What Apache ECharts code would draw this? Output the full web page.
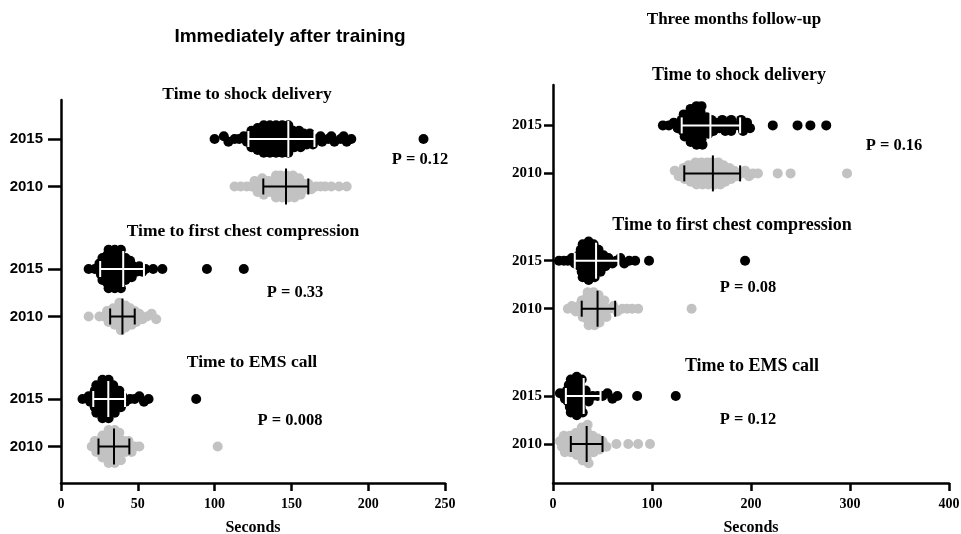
<!DOCTYPE html>
<html>
<head>
<meta charset="utf-8">
<script src="https://cdn.jsdelivr.net/npm/echarts@6/dist/echarts.min.js"></script>
<style>html,body{margin:0;padding:0;background:#fff}#c{width:961px;height:534px}</style>
</head>
<body>
<div id="c"></div>
<script>
// ---------- DATA (seconds) ----------
const panelTitles = ['Immediately after training', 'Three months follow-up'];
const measures = ['Time to shock delivery', 'Time to first chest compression', 'Time to EMS call'];
const years = ['2015', '2010'];
const xTicksA = [0, 50, 100, 150, 200, 250];
const xTicksB = [0, 100, 200, 300, 400];

// Immediately after training
const A_shock2015 = [100, 106, 109, 113, 116, 119, 121, 122, 123, 124, 124, 125, 126, 127, 128, 128, 129, 130, 131, 131, 132, 132, 133, 134, 135, 135, 136, 136, 137, 138, 138, 139, 140, 140, 141, 141, 142, 143, 144, 144, 145, 146, 146, 147, 148, 148, 149, 150, 151, 152, 153, 154, 155, 156, 157, 158, 160, 161, 162, 164, 167, 169, 170, 174, 176, 178, 182, 184, 186, 189, 236];
const A_shock2010 = [113, 117, 121, 124, 125, 126, 128, 129, 130, 131, 132, 134, 135, 136, 137, 138, 139, 140, 140, 141, 142, 143, 143, 144, 145, 146, 146, 147, 148, 149, 150, 150, 151, 152, 153, 154, 155, 156, 158, 159, 161, 163, 166, 169, 172, 176, 181, 186];
const A_chest2015 = [18, 22, 24, 25, 26, 27, 27, 28, 28, 29, 29, 30, 30, 31, 31, 32, 32, 33, 33, 34, 34, 35, 35, 36, 36, 37, 37, 38, 38, 39, 39, 40, 40, 41, 42, 42, 43, 44, 45, 46, 47, 49, 51, 53, 55, 60, 66, 95, 119];
const A_chest2010 = [18, 25, 28, 30, 31, 32, 33, 34, 35, 36, 36, 37, 38, 38, 39, 40, 40, 41, 42, 42, 43, 44, 45, 46, 47, 48, 49, 51, 53, 56, 59, 62];
const A_ems2015 = [14, 18, 19, 20, 21, 22, 22, 23, 23, 24, 24, 25, 25, 26, 26, 27, 27, 28, 28, 29, 29, 30, 30, 31, 31, 32, 32, 33, 33, 34, 35, 36, 37, 38, 39, 40, 42, 45, 48, 51, 54, 57, 88];
const A_ems2010 = [20, 22, 23, 24, 25, 26, 27, 27, 28, 29, 29, 30, 30, 31, 31, 32, 33, 33, 34, 34, 35, 35, 36, 37, 37, 38, 38, 39, 40, 41, 42, 43, 44, 46, 48, 51, 102];
// [centre, lower, upper] of the error bars
const A_stats2015 = [[148, 122, 165], [40.5, 25.5, 54], [30.8, 21, 41.7]];
const A_stats2010 = [[146.5, 131.7, 161], [40, 32, 48], [34.5, 24.4, 44.5]];
const A_pValues = ['P = 0.12', 'P = 0.33', 'P = 0.008'];

// Three months follow-up
const B_shock2015 = [111, 117, 122, 126, 129, 130, 131, 132, 133, 134, 135, 136, 137, 138, 139, 139, 140, 141, 142, 142, 143, 144, 145, 145, 146, 147, 147, 148, 149, 150, 150, 151, 152, 154, 155, 157, 159, 160, 162, 165, 168, 170, 171, 174, 177, 180, 180, 184, 188, 190, 192, 196, 199, 222, 247, 260, 276];
const B_shock2010 = [123, 127, 130, 132, 133, 135, 136, 137, 139, 140, 141, 143, 144, 145, 147, 148, 149, 150, 151, 152, 153, 155, 156, 157, 158, 159, 160, 161, 163, 164, 165, 166, 167, 169, 170, 171, 172, 174, 176, 178, 180, 183, 186, 190, 194, 198, 202, 207, 227, 240, 297];
const B_chest2015 = [6, 11, 15, 19, 22, 25, 26, 27, 28, 29, 30, 30, 31, 32, 33, 33, 34, 35, 36, 36, 37, 38, 39, 39, 40, 41, 42, 43, 44, 45, 46, 48, 49, 51, 53, 56, 60, 64, 68, 72, 77, 83, 97, 194];
const B_chest2010 = [15, 19, 23, 26, 28, 29, 30, 31, 32, 33, 34, 35, 35, 36, 37, 38, 39, 40, 40, 41, 42, 43, 44, 44, 45, 46, 47, 49, 50, 52, 54, 57, 61, 65, 70, 75, 80, 86, 140];
const B_ems2015 = [7, 12, 13, 14, 15, 16, 17, 18, 18, 19, 20, 21, 21, 22, 23, 24, 24, 25, 26, 27, 27, 28, 29, 30, 31, 33, 36, 40, 45, 50, 55, 60, 65, 85, 124];
const B_ems2010 = [7, 9, 11, 12, 14, 15, 17, 18, 20, 21, 22, 23, 24, 25, 26, 27, 28, 28, 29, 30, 31, 31, 32, 33, 34, 34, 35, 36, 37, 38, 40, 41, 43, 45, 47, 50, 54, 64, 76, 86, 98];
const B_stats2015 = [[159, 130, 189], [43.5, 22, 66], [31, 13, 48]];
const B_stats2010 = [[161.5, 132.6, 189], [45, 29, 62.8], [34, 18, 50]];
const B_pValues = ['P = 0.16', 'P = 0.08', 'P = 0.12'];

// ---------- LAYOUT ----------
const SERIF = '"Liberation Serif", "Times New Roman", serif';
const SANS = '"Liberation Sans", Arial, sans-serif';
const BLACK = '#000000', GREY = '#c2c2c2';
const DOT = 10, BIN_W = 6, ROW_H = 5.5;

const panels = [
  { grid: { left: 61, top: 100, width: 384, height: 383 }, xMax: 250, xTicks: xTicksA,
    base: 36.5, pitch: 130, gap: 47.5,
    d2015: [A_shock2015, A_chest2015, A_ems2015], d2010: [A_shock2010, A_chest2010, A_ems2010],
    s2015: A_stats2015, s2010: A_stats2010, yFont: SANS, yFontSize: 15, tickLen: 13, yMargin: 18 },
  { grid: { left: 553, top: 85, width: 396, height: 398 }, xMax: 400, xTicks: xTicksB,
    base: 39, pitch: 135.3, gap: 48,
    d2015: [B_shock2015, B_chest2015, B_ems2015], d2010: [B_shock2010, B_chest2010, B_ems2010],
    s2015: B_stats2015, s2010: B_stats2010, yFont: SERIF, yFontSize: 15, tickLen: 9, yMargin: 11 }
];

// measure index m: 0 shock (top), 1 chest, 2 EMS (bottom)
function rowPos(p, m, yearIdx) {
  const g = 2 - m;
  return p.base + g * p.pitch + (yearIdx === 0 ? p.gap : 0);
}

// Column (bin) swarm: points falling in the same pixel bin are spread symmetrically in vertical rows.
function swarm(values, kx, w, s) {
  const bins = new Map();
  values.forEach(v => {
    const b = Math.floor(v * kx / w);
    if (!bins.has(b)) bins.set(b, []);
    bins.get(b).push(v);
  });
  const out = [];
  bins.forEach(arr => {
    arr.sort((a, b) => a - b);
    const n = arr.length;
    const offs = [];
    for (let i = 0; i < n; i++) offs.push((i - (n - 1) / 2) * s);
    offs.sort((a, b) => (Math.abs(a) - Math.abs(b)) || (b - a));
    arr.forEach((v, i) => out.push({ v, y: offs[i] }));
  });
  return out;
}

const grids = [], xAxes = [], yAxes = [], series = [];
panels.forEach((p, pi) => {
  grids.push(Object.assign({ containLabel: false, outerBoundsMode: 'none' }, p.grid));
  const kx = p.grid.width / p.xMax;
  const yMax = p.grid.height; // one unit per pixel
  const ky = p.grid.height / yMax;
  const positions = [], labelMap = {};
  for (let m = 0; m < 3; m++) {
    [0, 1].forEach(yi => {
      const pos = rowPos(p, m, yi);
      positions.push(pos);
      labelMap[pos] = years[yi];
    });
  }
  xAxes.push({
    gridIndex: pi, type: 'value', min: 0, max: p.xMax, interval: p.xTicks[1] - p.xTicks[0],
    splitLine: { show: false },
    axisLine: { show: true, lineStyle: { color: BLACK, width: 2.5 } },
    axisTick: { show: true, length: 8, lineStyle: { color: BLACK, width: 2.5 } },
    axisLabel: { color: BLACK, fontFamily: SERIF, fontWeight: 'bold', fontSize: 14, margin: 14 },
    name: 'Seconds', nameLocation: 'middle', nameGap: 37,
    nameTextStyle: { color: BLACK, fontFamily: SERIF, fontWeight: 'bold', fontSize: 16 }
  });
  yAxes.push({
    gridIndex: pi, type: 'value', min: 0, max: yMax,
    splitLine: { show: false },
    axisLine: { show: true, lineStyle: { color: BLACK, width: 2.5 } },
    axisTick: { show: true, length: p.tickLen, customValues: positions, lineStyle: { color: BLACK, width: 2.5 } },
    axisLabel: { customValues: positions, color: BLACK, fontFamily: p.yFont, fontWeight: 'bold', fontSize: p.yFontSize, margin: p.yMargin,
      formatter: v => { let best = ''; let bd = 1e9; for (const k in labelMap) { const dd = Math.abs(k - v); if (dd < bd) { bd = dd; best = labelMap[k]; } } return best; } }
  });
  for (let m = 0; m < 3; m++) {
    [0, 1].forEach(yi => {
      const vals = yi === 0 ? p.d2015[m] : p.d2010[m];
      const centre = rowPos(p, m, yi);
      const pts = swarm(vals, kx, BIN_W, ROW_H);
      series.push({
        type: 'scatter', xAxisIndex: pi, yAxisIndex: pi, symbol: 'circle', symbolSize: DOT,
        itemStyle: { color: yi === 0 ? BLACK : GREY, opacity: 1 }, silent: true,
        data: pts.map(q => [q.v, centre + q.y / ky]), z: 2
      });
      const st = yi === 0 ? p.s2015[m] : p.s2010[m];
      series.push({
        type: 'custom', xAxisIndex: pi, yAxisIndex: pi, silent: true, z: 5,
        data: [[st[0], st[1], st[2], centre]],
        renderItem: (params, api) => {
          const c = api.coord([api.value(0), api.value(3)]);
          const lo = api.coord([api.value(1), api.value(3)]);
          const hi = api.coord([api.value(2), api.value(3)]);
          const col = yi === 0 ? '#ffffff' : BLACK;
          const style = { stroke: col, lineWidth: 2 };
          return { type: 'group', children: [
            { type: 'line', shape: { x1: lo[0], y1: c[1], x2: hi[0], y2: c[1] }, style },
            { type: 'line', shape: { x1: c[0], y1: c[1] - 18, x2: c[0], y2: c[1] + 18 }, style },
            { type: 'line', shape: { x1: lo[0], y1: c[1] - 8, x2: lo[0], y2: c[1] + 8 }, style },
            { type: 'line', shape: { x1: hi[0], y1: c[1] - 8, x2: hi[0], y2: c[1] + 8 }, style }
          ] };
        }
      });
    });
  }
});

function txt(x, y, text, font, size) {
  return { type: 'text', x, y, silent: true,
    style: { text, fill: BLACK, font: 'bold ' + size + 'px ' + font, textAlign: 'center', textVerticalAlign: 'middle' } };
}
const graphics = [
  txt(290, 37, panelTitles[0], SANS, 19),
  txt(734, 20, panelTitles[1], SERIF, 17),
  txt(247, 94, measures[0], SERIF, 17.5),
  txt(243, 231, measures[1], SERIF, 17.5),
  txt(252, 362, measures[2], SERIF, 17.5),
  txt(739, 75, measures[0], SERIF, 18),
  txt(732, 225, measures[1], SERIF, 18),
  txt(752, 366, measures[2], SERIF, 18),
  txt(420, 160, A_pValues[0], SERIF, 16.5),
  txt(295, 293, A_pValues[1], SERIF, 16.5),
  txt(290, 421, A_pValues[2], SERIF, 16.5),
  txt(894, 146, B_pValues[0], SERIF, 16.5),
  txt(748, 288, B_pValues[1], SERIF, 16.5),
  txt(748, 420, B_pValues[2], SERIF, 16.5)
];

const chart = echarts.init(document.getElementById('c'));
chart.setOption({
  animation: false, backgroundColor: '#ffffff',
  grid: grids, xAxis: xAxes, yAxis: yAxes, series, graphic: graphics
});
</script>
</body>
</html>
